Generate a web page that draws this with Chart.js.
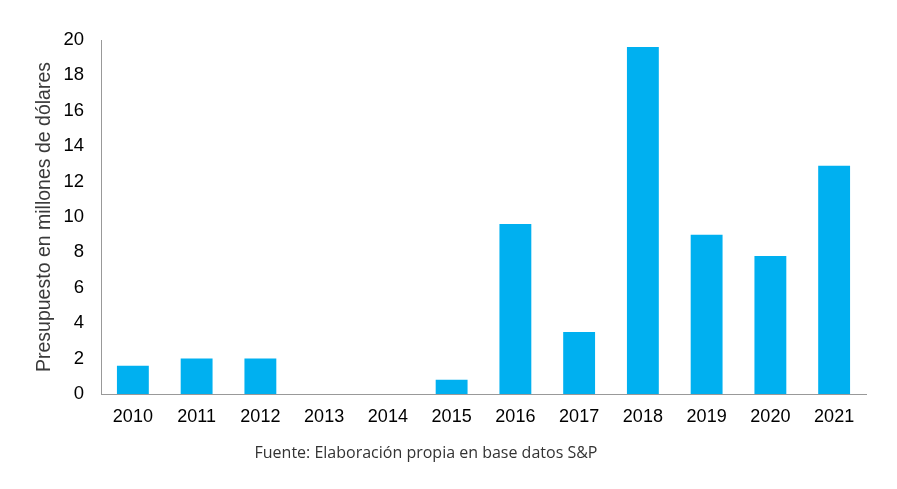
<!DOCTYPE html>
<html>
<head>
<meta charset="utf-8">
<script src="https://cdn.jsdelivr.net/npm/chart.js@4"></script>
<style>
  html, body { margin: 0; padding: 0; background: #fff; }
  #wrap { position: relative; width: 897px; height: 489px; }
  #note { position: absolute; left: -4px; width: 860px; top: 441px; text-align: center;
          font-family: "Open Sans", sans-serif; font-size: 16px; color: #333; }
</style>
</head>
<body>
<div id="wrap">
  <canvas id="c" width="897" height="489"></canvas>
  <div id="note">Fuente: Elaboración propia en base datos S&amp;P</div>
</div>
<script>
const categories = ["2010","2011","2012","2013","2014","2015","2016","2017","2018","2019","2020","2021"];
const budget = [1.6, 2.0, 2.0, 0, 0, 0.8, 9.6, 3.5, 19.6, 9.0, 7.8, 12.9];
const yTitle = "Presupuesto en millones de dólares";

new Chart(document.getElementById("c"), {
  type: "bar",
  data: {
    labels: categories,
    datasets: [{ data: budget, backgroundColor: "#00B0F0", categoryPercentage: 1, barPercentage: 0.5 }]
  },
  options: {
    responsive: false,
    animation: false,
    layout: { padding: { top: 40, right: 31, bottom: 0, left: 0 } },
    plugins: { legend: { display: false }, tooltip: { enabled: false } },
    scales: {
      x: {
        grid: { display: false, drawTicks: false },
        border: { display: true, color: "#999", width: 1 },
        ticks: { color: "#000", font: { family: "Liberation Sans", size: 18 }, padding: 12, maxRotation: 0 },
        afterFit: s => { s.height = 95; }
      },
      y: {
        min: 0, max: 20,
        grid: { display: false, drawTicks: false },
        border: { display: true, color: "#999", width: 1 },
        ticks: { stepSize: 2, color: "#000", font: { family: "Liberation Sans", size: 18.5 }, padding: 17 },
        title: { display: true, text: yTitle, color: "#3a3a3a", font: { family: "Liberation Sans", size: 19.5 }, padding: { top: 33, bottom: 0 } },
        afterFit: s => { s.width = 101; }
      }
    }
  }
});
</script>
</body>
</html>
